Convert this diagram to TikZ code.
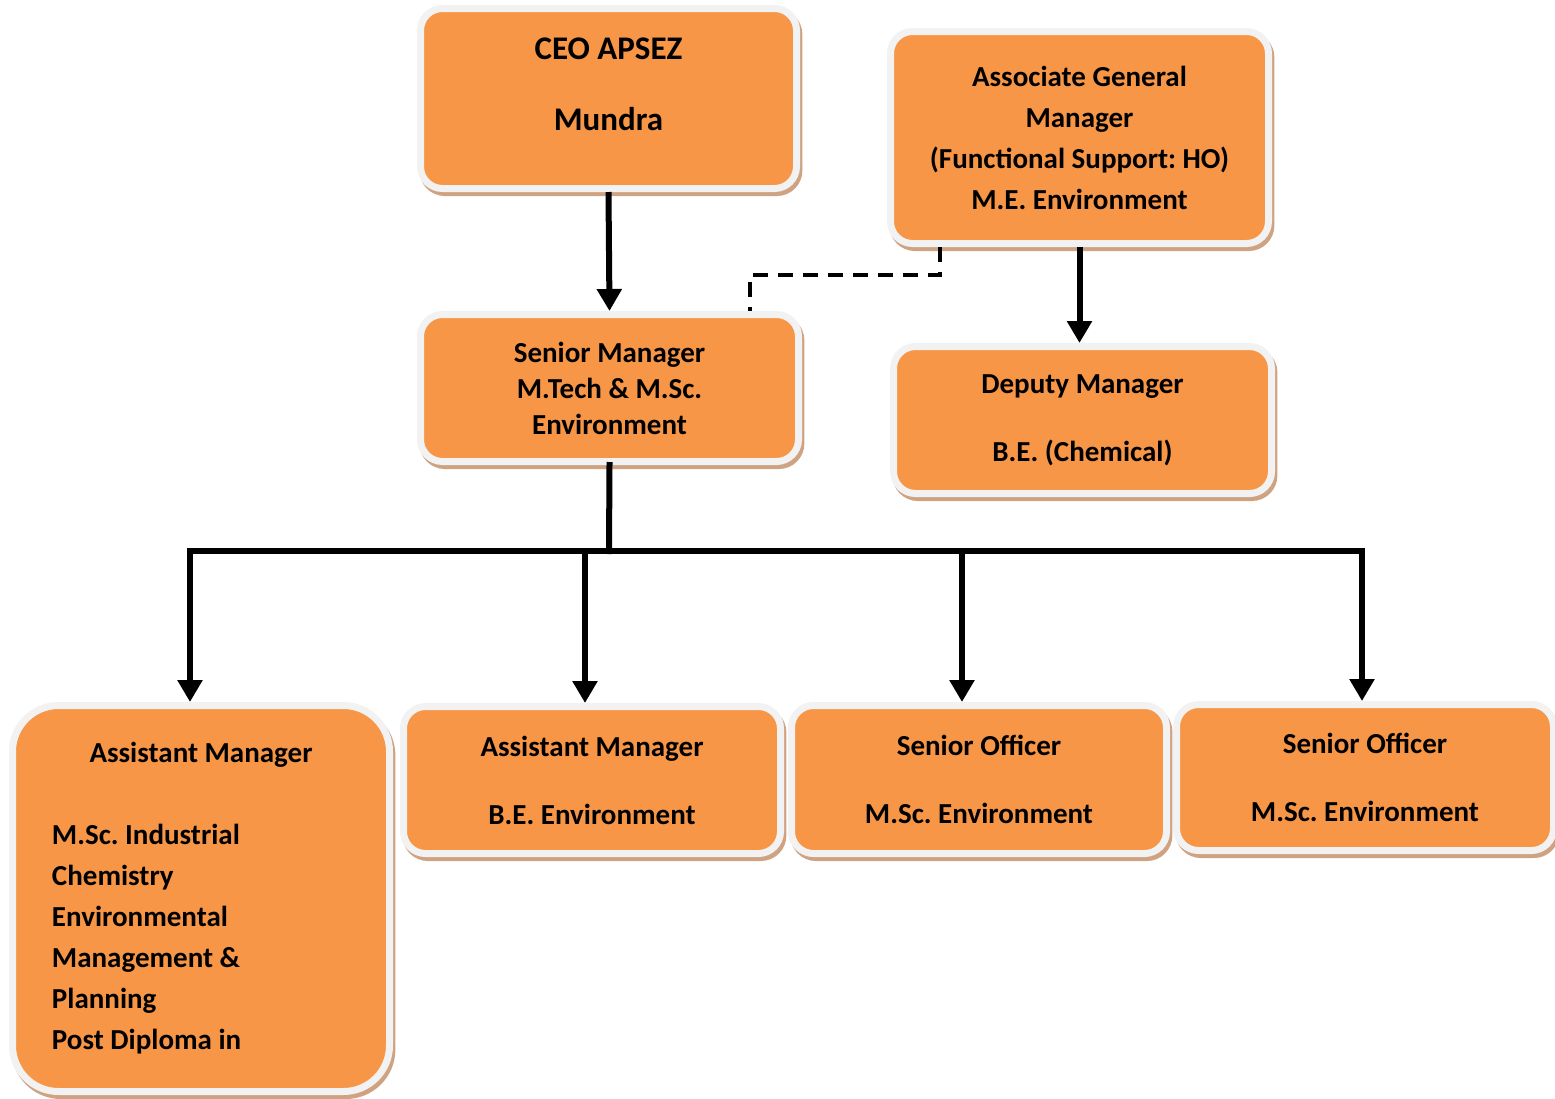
\documentclass[tikz,border=0pt]{standalone}
\usepackage{fontspec}
\setmainfont{Carlito}
\usepackage{tikz}
\usetikzlibrary{arrows.meta, positioning}
\definecolor{boxorange}{HTML}{F79646}
\definecolor{boxrim}{HTML}{F2F2F2}
\definecolor{boxshadow}{HTML}{CFA282}

\begin{document}
\frenchspacing
\begin{tikzpicture}[
        x=0.5pt, y=-0.5pt,
        post/.style={fill=boxorange, draw=boxrim, line width=3.5pt, rounded corners=11pt,
            align=center, font=\fontsize{14.5}{18}\selectfont\bfseries, inner sep=0pt,
            preaction={draw=boxshadow, fill=boxshadow, line width=3.5pt,
                transform canvas={shift={(1.2pt,-2pt)}}}},
        arrow/.style={-{Triangle[width=12pt, length=11pt]}, line width=3pt},
        bar/.style={line width=3pt, line cap=rect},
        dashline/.style={line width=2pt, dash pattern=on 7.5pt off 5pt}
    ]
    \useasboundingbox (0,0) rectangle (1555,1099);

    % Boxes
    \node[post, minimum width=188pt, minimum height=90pt, font=\fontsize{16.5}{18}\selectfont\bfseries] (ceo) at (608.5,98.5)
        {CEO APSEZ\\[17.5pt]Mundra\\[-4pt]\mbox{}};
    \node[post, minimum width=189pt, minimum height=106pt] (agm) at (1079.5,137.5)
        {Associate General\\[2.5pt]Manager\\[2.5pt](Functional Support: HO)\\[2.5pt]M.E. Environment};
    \node[post, minimum width=189pt, minimum height=73.5pt] (sm) at (609.5,388)
        {Senior Manager\\M.Tech \& M.Sc.\\Environment};
    \node[post, minimum width=189pt, minimum height=73.5pt] (dm) at (1082.5,420)
        {Deputy Manager\\[16pt]B.E. (Chemical)};
    \node[post, rounded corners=23pt, minimum width=188.5pt, minimum height=193pt,
          align=flush left, text width=149pt] (am1) at (201,898.5)
        {\makebox[149pt][c]{Assistant Manager}\\[23pt]M.Sc. Industrial\\[2.5pt]Chemistry\\[2.5pt]Environmental\\[2.5pt]Management \&\\[2.5pt]Planning\\[2.5pt]Post Diploma in};
    \node[post, minimum width=188.5pt, minimum height=73.5pt] (am2) at (592,780)
        {Assistant Manager\\[16pt]B.E. Environment};
    \node[post, minimum width=187.5pt, minimum height=74pt] (so1) at (979,779.5)
        {Senior Officer\\[16pt]M.Sc. Environment};
    \node[post, minimum width=188.5pt, minimum height=73pt] (so2) at (1365,777.5)
        {Senior Officer\\[16pt]M.Sc. Environment};

    % Bus below the senior manager
    \coordinate (bus) at (609,551);
    \coordinate (d1) at (190,551);
    \coordinate (d2) at (585,551);
    \coordinate (d3) at (962,551);
    \coordinate (d4) at (1362,551);

    % Connections
    \draw[arrow] (ceo.south) -- (sm.north);
    \draw[arrow] (agm.south) -- (agm.south |- dm.north);
    \draw[dashline] ([xshift=-69.75pt]agm.south) -- ++(0,28) -| ([xshift=70.25pt]sm.north);
    \draw[bar] (sm.south) -- (bus);
    \draw[bar] (d1) -- (d4);
    \draw[arrow] (d1) -- (d1 |- am1.north);
    \draw[arrow] (d2) -- (d2 |- am2.north);
    \draw[arrow] (d3) -- (d3 |- so1.north);
    \draw[arrow] (d4) -- (d4 |- so2.north);

\end{tikzpicture}
\end{document}
